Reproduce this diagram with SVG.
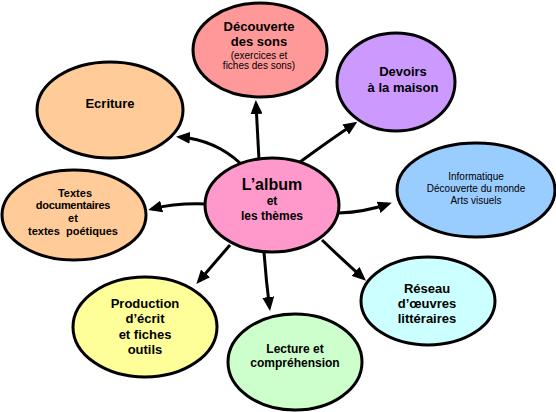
<svg xmlns="http://www.w3.org/2000/svg" width="556" height="412" viewBox="0 0 556 412">
<style>
  .node ellipse { stroke: #000; stroke-width: 3; }
  .b { font-family: "Liberation Sans", Arial, sans-serif; font-weight: bold; text-anchor: middle; fill: #000; }
  .r { font-family: "Liberation Sans", Arial, sans-serif; font-weight: normal; text-anchor: middle; fill: #000; font-size: 10px; }
  .conn path { fill: none; stroke: #000; stroke-width: 3; marker-end: url(#ah); }
</style>
<defs>
  <marker id="ah" markerUnits="userSpaceOnUse" markerWidth="14" markerHeight="12" refX="10" refY="6" orient="auto">
    <path d="M0,0 L14,6 L0,12 z" fill="#000"/>
  </marker>
</defs>
<rect width="556" height="412" fill="#fff"/>
<g id="connectors" class="conn">
  <path d="M259 160 L256 104"/>
  <path d="M240 163 Q215 140 180 137"/>
  <path d="M300 162 Q330 140 354 124"/>
  <path d="M339 213 Q365 212 388 204"/>
  <path d="M206 204 Q175 203 152 209"/>
  <path d="M230 245 L199 281"/>
  <path d="M264 252 Q266 280 269.5 307"/>
  <path d="M322 240 Q345 262 363 278"/>
</g>
<g id="decouverte" class="node">
  <ellipse cx="260" cy="50" rx="67" ry="47" fill="#FF9999"/>
  <text class="b" x="259" y="31" font-size="13">Découverte</text>
  <text class="b" x="259" y="46" font-size="13">des sons</text>
  <text class="r" x="259" y="59">(exercices et</text>
  <text class="r" x="259" y="69">fiches des sons)</text>
</g>
<g id="devoirs" class="node">
  <ellipse cx="396" cy="82" rx="59" ry="49" fill="#CC99FF"/>
  <text class="b" x="403" y="76" font-size="13">Devoirs</text>
  <text class="b" x="403" y="92" font-size="13">à la maison</text>
</g>
<g id="ecriture" class="node">
  <ellipse cx="110" cy="110" rx="73" ry="48" fill="#FFCC99"/>
  <text class="b" x="110" y="108" font-size="13">Ecriture</text>
</g>
<g id="informatique" class="node">
  <ellipse cx="476" cy="190" rx="79" ry="47" fill="#99CCFF"/>
  <text class="r" x="476" y="180">Informatique</text>
  <text class="r" x="476" y="192">Découverte du monde</text>
  <text class="r" x="476" y="204">Arts visuels</text>
</g>
<g id="textes" class="node">
  <ellipse cx="74" cy="215" rx="72" ry="45" fill="#FFCC99"/>
  <text class="b" x="75" y="197" font-size="11">Textes</text>
  <text class="b" x="73" y="209" font-size="11" letter-spacing="-0.3">documentaires</text>
  <text class="b" x="73" y="222" font-size="11">et</text>
  <text class="b" x="73" y="235" font-size="11" xml:space="preserve">textes  poétiques</text>
</g>
<g id="album" class="node">
  <ellipse cx="272" cy="205" rx="67" ry="47" fill="#FF99CC"/>
  <text class="b" x="272" y="190" font-size="16">L’album</text>
  <text class="b" x="272" y="205" font-size="12">et</text>
  <text class="b" x="272" y="220" font-size="12">les thèmes</text>
</g>
<g id="production" class="node">
  <ellipse cx="145" cy="327" rx="72" ry="50" fill="#FFFF99"/>
  <text class="b" x="145" y="308" font-size="13">Production</text>
  <text class="b" x="145" y="323" font-size="13">d’écrit</text>
  <text class="b" x="145" y="339" font-size="13">et fiches</text>
  <text class="b" x="145" y="354" font-size="13">outils</text>
</g>
<g id="lecture" class="node">
  <ellipse cx="295" cy="362" rx="67" ry="48" fill="#CCFFCC"/>
  <text class="b" x="295" y="353" font-size="12">Lecture et</text>
  <text class="b" x="295" y="367" font-size="12">compréhension</text>
</g>
<g id="reseau" class="node">
  <ellipse cx="428" cy="301" rx="67" ry="44" fill="#CCFFFF"/>
  <text class="b" x="427" y="293" font-size="13">Réseau</text>
  <text class="b" x="427" y="308" font-size="13">d’œuvres</text>
  <text class="b" x="427" y="323" font-size="13">littéraires</text>
</g>
</svg>
